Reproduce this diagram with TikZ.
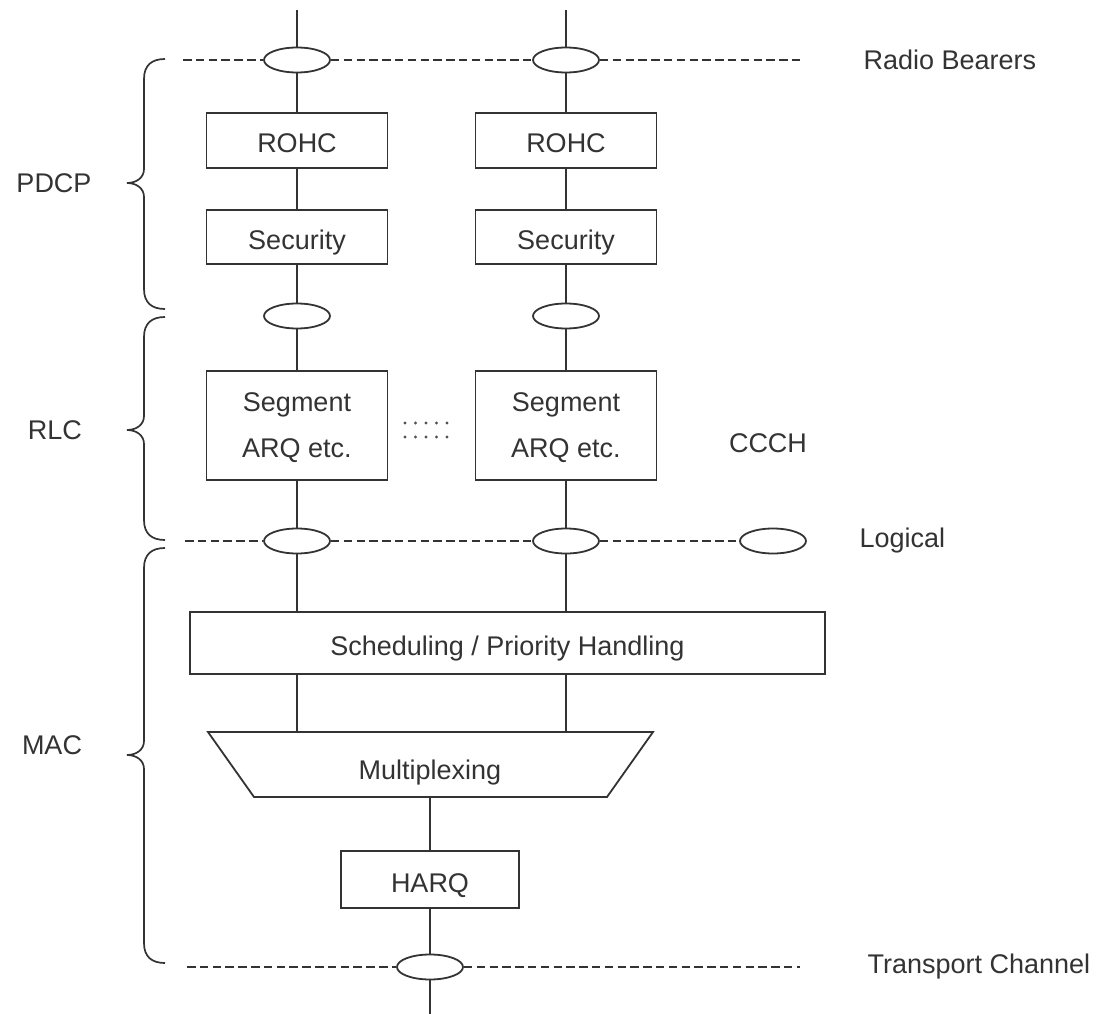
\documentclass[tikz,border=0pt]{standalone}
\usepackage{fontspec}
\setmainfont{Liberation Sans}
\usetikzlibrary{shapes.geometric}
\definecolor{ink}{HTML}{333333}
\newcommand\layerbrace[3]{%
  \draw[brc] (165,#1) .. controls (152,#1) and (144,#1+6) .. (144,#1+20)
    -- (144,#2-14) .. controls (144,#2-5) and (136,#2) .. (127,#2)
    .. controls (136,#2) and (144,#2+5) .. (144,#2+14)
    -- (144,#3-20) .. controls (144,#3-6) and (152,#3) .. (165,#3);}
\begin{document}
\begin{tikzpicture}[x=1pt,y=-1pt,
  every node/.style={font=\fontsize{27}{46}\selectfont, text=ink},
  ln/.style={draw=ink, line width=1.8pt},
  boxn/.style={ln, rectangle, fill=white, minimum width=181pt, minimum height=55pt, inner sep=0pt, align=center, text depth=0pt},
  one/.style={text height=25pt},
  ell/.style={ln, ellipse, fill=white, minimum width=66pt, minimum height=25pt, inner sep=0pt},
  dl/.style={draw=ink, line width=1.6pt, dash pattern=on 8.5pt off 4.3pt},
  brc/.style={draw=ink, line width=1.7pt},
  lbl/.style={anchor=west}]
\useasboundingbox (0,0) rectangle (1096,1014);

% top / bottom free ends
\coordinate (t1) at (297,10);
\coordinate (t2) at (566,10);
\coordinate (bot) at (430,1014);

% radio bearers
\node[ell] (rb1) at (297,60) {};
\node[ell] (rb2) at (566,60) {};
\coordinate (rbL) at (183,60);
\coordinate (rbR) at (800,60);

% PDCP
\node[boxn, one] (rohc1) at (297,140.5) {ROHC};
\node[boxn, one] (rohc2) at (566,140.5) {ROHC};
\node[boxn, one, minimum height=54pt] (sec1) at (297,237) {Security};
\node[boxn, one, minimum height=54pt] (sec2) at (566,237) {Security};
\node[ell] (e1) at (297,316) {};
\node[ell] (e2) at (566,316) {};

% RLC
\node[boxn, minimum height=109pt] (seg1) at (297,425.5) {Segment\\ARQ etc.};
\node[boxn, minimum height=109pt] (seg2) at (566,425.5) {Segment\\ARQ etc.};
\node (ccch) at (768,443) {CCCH};

% logical
\node[ell] (log1) at (297,541) {};
\node[ell] (log2) at (566,541) {};
\node[ell] (log3) at (773,541) {};
\coordinate (logL) at (185,541);

% MAC
\node[boxn, one, minimum width=635pt, minimum height=62pt] (sched) at (507.5,643) {Scheduling / Priority Handling};
\coordinate (m1) at (297,732);
\coordinate (m2) at (566,732);
\coordinate (mb) at (430,797);
\draw[ln, fill=white] (208,732) -- (653,732) -- (607,797) -- (254,797) -- cycle;
\node[text height=25pt, text depth=0pt] (mux) at (430,767) {Multiplexing};
\node[boxn, one, minimum width=178pt, minimum height=57pt] (harq) at (430,879.5) {HARQ};

% transport
\node[ell] (tr) at (430,967) {};
\coordinate (trL) at (187,967);
\coordinate (trR) at (800,967);

% dashed channel lines
\draw[dl] (rbL) -- (rb1) (rb1) -- (rb2) (rb2) -- (rbR);
\draw[dl] (logL) -- (log1) (log1) -- (log2) (log2) -- (log3);
\draw[dl] (trL) -- (tr) (tr) -- (trR);

% vertical connectors
\draw[ln] (t1) -- (rb1) -- (rohc1) -- (sec1) -- (e1) -- (seg1) -- (log1) -- (log1 |- sched.north);
\draw[ln] (t2) -- (rb2) -- (rohc2) -- (sec2) -- (e2) -- (seg2) -- (log2) -- (log2 |- sched.north);
\draw[ln] (sched.south -| m1) -- (m1);
\draw[ln] (sched.south -| m2) -- (m2);
\draw[ln] (mb) -- (harq) -- (tr) -- (bot);

% dots between RLC entities
\foreach \i in {0,...,4} {
  \fill[ink!85] (405+\i*10.5,423) circle (1.7pt);
  \fill[ink!85] (405+\i*10.5,437) circle (1.7pt);
}

% layer braces and labels
\layerbrace{59}{183}{309}
\layerbrace{317}{430}{540}
\layerbrace{548}{755}{963}
\node (pdcp) at (54,183) {PDCP};
\node (rlc) at (55,430) {RLC};
\node (mac) at (52,745) {MAC};

% channel labels
\node[lbl] (rbl) at (860,60) {Radio Bearers};
\node[lbl] (logl) at (856,541) {Logical};
\node[lbl] (trl) at (864,967) {Transport Channel};
\end{tikzpicture}
\end{document}
